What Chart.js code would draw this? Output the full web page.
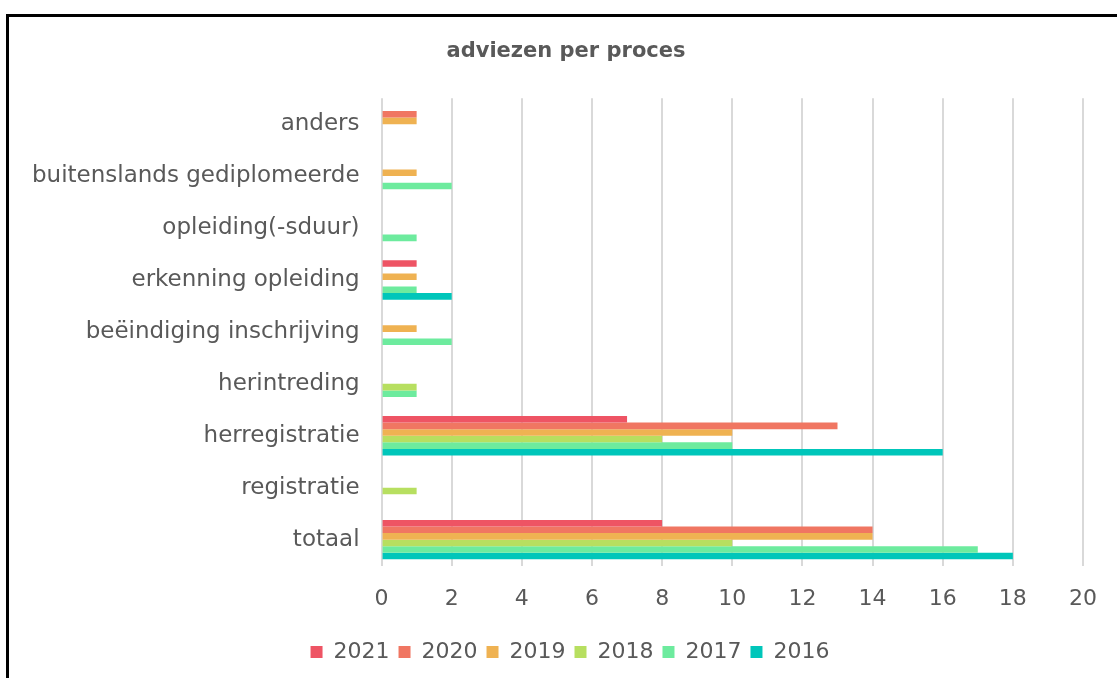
<!DOCTYPE html>
<html><head><meta charset="utf-8">
<script src="https://cdn.jsdelivr.net/npm/chart.js@4"></script>
<style>
html,body{margin:0;padding:0;background:#fff;overflow:hidden;}
#wrap{position:absolute;left:0;top:0;width:1117px;height:678px;}
#frame{position:absolute;left:6px;top:14px;width:1200px;height:800px;border-left:3px solid #000;border-top:3px solid #000;box-sizing:border-box;pointer-events:none;}
</style></head>
<body>
<div id="wrap"><canvas id="c" width="1117" height="678"></canvas></div>
<div id="frame"></div>
<script>
const categories = ["anders","buitenslands gediplomeerde","opleiding(-sduur)","erkenning opleiding","beëindiging inschrijving","herintreding","herregistratie","registratie","totaal"];
const years = ["2021","2020","2019","2018","2017","2016"];
const v2021 = [0,0,0,1,0,0,7,0,8];
const v2020 = [1,0,0,0,0,0,13,0,14];
const v2019 = [1,1,0,1,1,0,10,0,14];
const v2018 = [0,0,0,0,0,1,8,1,10];
const v2017 = [0,2,1,1,2,1,10,0,17];
const v2016 = [0,0,0,2,0,0,16,0,18];
const colors = ["#EE5464","#F07662","#EFB252","#B7DF60","#6DEB9E","#00C6BA"];
const series = [v2021,v2020,v2019,v2018,v2017,v2016];
const FONT = "'DejaVu Sans', sans-serif";
const shiftPlugin = {
  id:'shift',
  afterLayout(chart){
    const l = chart.legend; if (l){ l.left += 19; l.right += 19; }
    const t = chart.titleBlock; if (t){ t.left += 15; t.right += 15; }
  }
};
new Chart(document.getElementById('c'), {
  type:'bar',
  data:{labels:categories, datasets: years.map((y,i)=>({label:y,data:series[i],backgroundColor:colors[i],borderWidth:0}))},
  plugins:[shiftPlugin],
  options:{
    indexAxis:'y', responsive:false, animation:false,
    layout:{padding:{left:18,right:33,top:33,bottom:5}},
    plugins:{
      title:{display:true,text:'adviezen per proces',color:'#595959',font:{family:FONT,size:21,weight:'bold'},padding:{top:6,bottom:34}},
      legend:{position:'bottom',labels:{color:'#595959',font:{family:FONT,size:22},boxWidth:12,boxHeight:12,padding:9}},
      tooltip:{enabled:false}
    },
    datasets:{bar:{categoryPercentage:0.76,barPercentage:1}},
    scales:{
      x:{min:0,max:20,ticks:{stepSize:2,color:'#595959',font:{family:FONT,size:22},padding:20},
         grid:{color:'#d9d9d9',lineWidth:2,drawTicks:false},border:{display:false}},
      y:{ticks:{color:'#595959',font:{family:FONT,size:23},padding:14},grid:{display:false},border:{display:false}}
    }
  }
});
</script>
</body></html>
